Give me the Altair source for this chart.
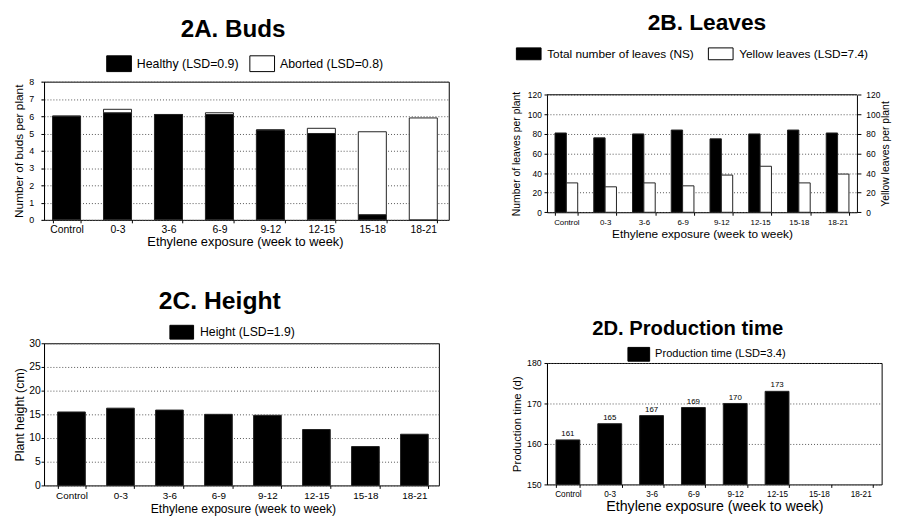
import altair as alt
import pandas as pd

FONT = "Liberation Sans"

categories = ["Control", "0-3", "3-6", "6-9", "9-12", "12-15", "15-18", "18-21"]

# 2A Buds
bud_series = ["Healthy (LSD=0.9)", "Aborted (LSD=0.8)"]
buds_healthy = [6.0, 6.2, 6.1, 6.1, 5.2, 5.0, 0.3, 0.0]
buds_aborted = [0.0, 0.2, 0.0, 0.1, 0.0, 0.3, 4.8, 5.9]

# 2B Leaves
leaf_series = ["Total number of leaves (NS)", "Yellow leaves (LSD=7.4)"]
leaves_total = [81, 76, 80, 84, 75, 80, 84, 81]
leaves_yellow = [30, 26, 30, 27, 38, 47, 30, 39]
leaf_axis_max = [120]

# 2C Height
height_series = ["Height (LSD=1.9)"]
plant_height = [15.5, 16.3, 15.9, 15.0, 14.8, 11.8, 8.2, 10.8]

# 2D Production time
prod_series = ["Production time (LSD=3.4)"]
prod_categories = ["Control", "0-3", "3-6", "6-9", "9-12", "12-15"]
prod_time = [161, 165, 167, 169, 170, 173]

X_TITLE = "Ethylene exposure (week to week)"
GRID = dict(grid=True, gridColor="#555555", gridDash=[1, 2], gridWidth=1)


def swatch_legend(x, y, w, h, font_size, offset, col_pad):
    r = h / w
    return alt.Legend(
        title=None, orient="none", legendX=x, legendY=y, direction="horizontal",
        symbolType=f"M-1,-{r:.3f}H1V{r:.3f}H-1Z", symbolSize=w * w,
        symbolStrokeColor="black", symbolStrokeWidth=1, symbolOpacity=1,
        labelFont=FONT, labelFontSize=font_size, labelColor="black",
        labelOffset=offset, columnPadding=col_pad, padding=0, labelLimit=400,
    )


def x_axis(label_size, title_size, label_pad, title_pad, domain=False):
    return alt.Axis(
        title=X_TITLE, labelAngle=0, labelFontSize=label_size, titleFontSize=title_size,
        tickBand="extent", tickSize=3, labelPadding=label_pad, titlePadding=title_pad,
        grid=False, domain=domain,
    )


def y_axis(title_text, values, label_size, title_size, label_pad, title_pad, **extra):
    kw = dict(GRID)
    kw.update(extra)
    return alt.Axis(title=title_text, values=values, labelFontSize=label_size,
                    titleFontSize=title_size, tickSize=3, labelPadding=label_pad,
                    titlePadding=title_pad, **kw)


def title(text, size, dx, offset):
    return alt.TitleParams(text=text, fontSize=size, fontWeight="bold", font=FONT,
                           color="black", anchor="middle", frame="group", dx=dx, offset=offset)


# ---------- 2A ----------
dfA = pd.DataFrame({
    "cat": categories * 2,
    "series": [bud_series[0]] * 8 + [bud_series[1]] * 8,
    "val": buds_healthy + buds_aborted,
    "ord": [0] * 8 + [1] * 8,
})
chartA = alt.Chart(dfA).mark_bar(stroke="#222222", strokeWidth=1).encode(
    x=alt.X("cat:N", sort=categories,
            scale=alt.Scale(domain=categories, range=[-3, 410], paddingInner=0.45, paddingOuter=0.225),
            axis=x_axis(10.5, 13, 2.3, 0.5)),
    y=alt.Y("val:Q", stack="zero", scale=alt.Scale(domain=[0, 8], nice=False),
            axis=y_axis("Number of buds per plant", list(range(0, 9)), 9, 12, 7.5, 3)),
    color=alt.Color("series:N", scale=alt.Scale(domain=bud_series, range=["black", "white"]),
                    legend=swatch_legend(63, -31.2, 25, 16, 12.5, 5, 8)),
    order=alt.Order("ord:Q"),
).properties(width=410, height=140, title=title("2A. Buds", 24.5, -13.5, 8.6))

# ---------- 2B ----------
B_H = 132.3
B_RANGE = [B_H, 13.3]
dfB = pd.DataFrame({
    "cat": categories * 2,
    "series": [leaf_series[0]] * 8 + [leaf_series[1]] * 8,
    "val": leaves_total + leaves_yellow,
})
baseB = alt.Chart(dfB).mark_bar(stroke="#222222", strokeWidth=1).encode(
    x=alt.X("cat:N", sort=categories,
            scale=alt.Scale(domain=categories, paddingInner=0.414, paddingOuter=0.207),
            axis=x_axis(8, 12, 3.4, 2.2, domain=True)),
    xOffset=alt.XOffset("series:N", scale=alt.Scale(domain=leaf_series, paddingInner=0, paddingOuter=0)),
    color=alt.Color("series:N", scale=alt.Scale(domain=leaf_series, range=["black", "white"]),
                    legend=swatch_legend(-31.5, -41.2, 25, 12, 12, 5.7, 11.5)),
)
leftB = baseB.transform_filter(alt.datum.series == leaf_series[0]).encode(
    y=alt.Y("val:Q", scale=alt.Scale(domain=[0, 120], range=B_RANGE, nice=False),
            axis=y_axis("Number of leaves per plant", list(range(0, 121, 20)), 8.5, 10.5, 2.7, 6.3)))
rightB = baseB.transform_filter(alt.datum.series == leaf_series[1]).encode(
    y=alt.Y("val:Q", scale=alt.Scale(domain=[0, 120], range=B_RANGE, nice=False),
            axis=alt.Axis(title="Yellow leaves per plant", orient="right",
                          values=list(range(0, 121, 20)), labelFontSize=8.5, titleFontSize=10.5,
                          tickSize=4, labelPadding=5, titlePadding=1, titleAngle=270,
                          titleBaseline="top", grid=False)))
topB = alt.Chart(pd.DataFrame({"top": leaf_axis_max})).mark_rule(color="black", strokeWidth=1).encode(
    y=alt.Y("top:Q", scale=alt.Scale(domain=[0, 120], range=B_RANGE, nice=False), axis=None))
chartB = alt.layer(leftB, rightB, topB).resolve_scale(y="independent").properties(
    width=314, height=B_H, title=title("2B. Leaves", 23, 5, 6.2),
    view=alt.ViewBackground(stroke="transparent"))

# ---------- 2C ----------
dfC = pd.DataFrame({"cat": categories, "series": height_series * 8, "val": plant_height})
chartC = alt.Chart(dfC).mark_bar(stroke="#222222", strokeWidth=1).encode(
    x=alt.X("cat:N", sort=categories,
            scale=alt.Scale(domain=categories, range=[3, 400], paddingInner=0.435, paddingOuter=0.2175),
            axis=x_axis(10, 12.3, 2, 2.5)),
    y=alt.Y("val:Q", scale=alt.Scale(domain=[0, 30], nice=False),
            axis=y_axis("Plant height (cm)", list(range(0, 31, 5)), 10.5, 12.5, 0.7, 2)),
    color=alt.Color("series:N", scale=alt.Scale(domain=height_series, range=["black"]),
                    legend=swatch_legend(127, -23.7, 24, 14, 12.4, 6, 8)),
).properties(width=400, height=144, title=title("2C. Height", 25, -22, 6))

# ---------- 2D ----------
dfD = pd.DataFrame({"cat": prod_categories, "series": prod_series * 6, "val": prod_time})
baseD = alt.Chart(dfD).encode(
    x=alt.X("cat:N", sort=categories,
            scale=alt.Scale(domain=categories, paddingInner=0.43, paddingOuter=0.215),
            axis=x_axis(8.3, 14.4, 2.6, 2)),
)
barsD = baseD.mark_bar(stroke="#222222", strokeWidth=1).encode(
    y=alt.Y("val:Q", scale=alt.Scale(domain=[150, 180], nice=False, zero=False),
            axis=y_axis("Production time (d)", [150, 160, 170, 180], 8.8, 11.5, 3, 4.5)),
    y2=alt.datum(150),
    color=alt.Color("series:N", scale=alt.Scale(domain=prod_series, range=["black"]),
                    legend=swatch_legend(81.5, -20.3, 22, 14, 11.2, 5, 8)),
)
textD = baseD.mark_text(baseline="bottom", dy=-2, fontSize=8, font=FONT, color="black").encode(
    y=alt.Y("val:Q"), text=alt.Text("val:Q"))
chartD = alt.layer(barsD, textD).properties(
    width=339, height=123, title=title("2D. Production time", 20.5, -27, 3.9))

left_col = alt.vconcat(chartA, chartC, spacing=39).resolve_scale(color="independent")
right_col = alt.vconcat(chartB, chartD, spacing=78).resolve_scale(color="independent")

chart = alt.hconcat(left_col, right_col, spacing=58.5).resolve_scale(color="independent").properties(
    padding={"left": 3.5, "top": 0.3, "right": 0, "bottom": 0}
).configure(font=FONT).configure_view(
    stroke="black", strokeWidth=1
).configure_axis(
    labelFont=FONT, titleFont=FONT, labelColor="black", titleColor="black",
    domainColor="black", tickColor="black", titleFontWeight="normal",
)

chart.save("out.html", embed_options={"renderer": "svg", "actions": False})
